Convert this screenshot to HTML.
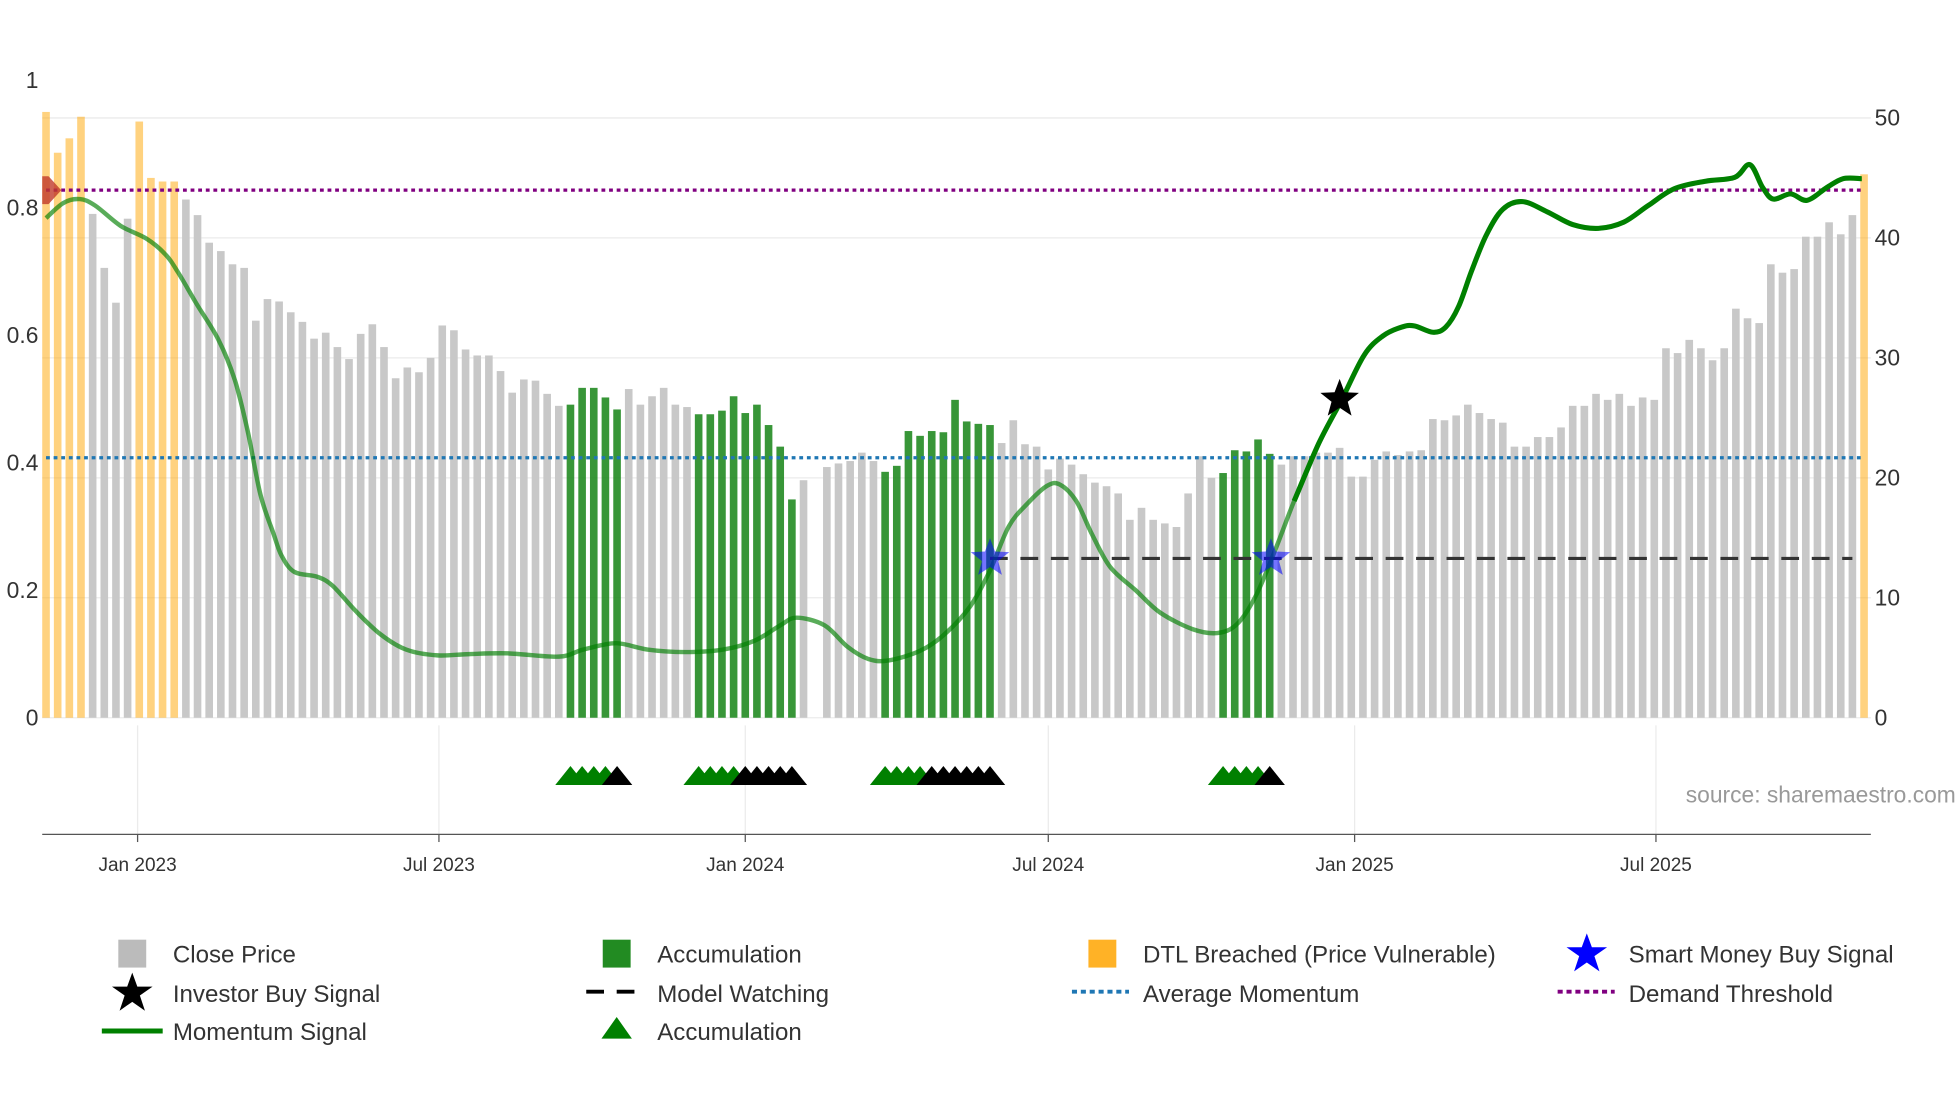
<!DOCTYPE html>
<html><head><meta charset="utf-8"><style>
html,body{margin:0;padding:0;background:#fff;width:1960px;height:1102px;overflow:hidden}
svg{display:block;font-family:"Liberation Sans","DejaVu Sans",sans-serif}
</style></head><body>
<svg id="chart" width="1960" height="1102" viewBox="0 0 1545 869" xmlns="http://www.w3.org/2000/svg">
<g id="grid"></g>
<g id="bars"></g>
<g id="lines"></g>
<g id="mom"></g>
<g id="marks"></g>
<g id="axes"></g>
<text x="1542" y="633" text-anchor="end" font-size="18" fill="#999">source: sharemaestro.com</text>
<g id="legend" font-size="19" fill="#333">
  <g><rect x="93" y="741" width="22" height="22" fill="#bbb"/><text x="136" y="759">Close Price</text></g>
  <g><polygon points="104,767 108,778 120,778 110,785 114,797 104,790 94,797 98,785 88,778 100,778" fill="#000"/><text x="136" y="790">Investor Buy Signal</text></g>
  <g><line x1="80" y1="813" x2="128" y2="813" stroke="#008000" stroke-width="4"/><text x="136" y="820">Momentum Signal</text></g>
  <g><rect x="475" y="741" width="22" height="22" fill="#228b22"/><text x="518" y="759">Accumulation</text></g>
  <g><line x1="462" y1="782" x2="510" y2="782" stroke="#000" stroke-width="3" stroke-dasharray="14,10"/><text x="518" y="790">Model Watching</text></g>
  <g><polygon points="486,802 498,819 474,819" fill="#008000"/><text x="518" y="820">Accumulation</text></g>
  <g><rect x="858" y="741" width="22" height="22" fill="#ffa500" opacity="0.85"/><text x="901" y="759">DTL Breached (Price Vulnerable)</text></g>
  <g><line x1="845" y1="782" x2="890" y2="782" stroke="#1f77b4" stroke-width="3" stroke-dasharray="4,3"/><text x="901" y="790">Average Momentum</text></g>
  <g><polygon points="1251,736 1255,747 1267,747 1257,754 1261,766 1251,759 1241,766 1245,754 1235,747 1247,747" fill="#0000ff"/><text x="1284" y="759">Smart Money Buy Signal</text></g>
  <g><line x1="1228" y1="782" x2="1273" y2="782" stroke="#800080" stroke-width="3" stroke-dasharray="4,3"/><text x="1284" y="790">Demand Threshold</text></g>
</g>
</svg>
<script>
const prices=[50.5,47.1,48.3,50.1,42,37.5,34.6,41.6,49.7,45,44.7,44.7,43.2,41.9,39.6,38.9,37.8,37.5,33.1,34.9,34.7,33.8,33,31.6,32.1,30.9,29.9,32,32.8,30.9,28.3,29.2,28.8,30,32.7,32.3,30.7,30.2,30.2,28.9,27.1,28.2,28.1,27,26,26.1,27.5,27.5,26.7,25.7,27.4,26.1,26.8,27.5,26.1,25.9,25.3,25.3,25.6,26.8,25.4,26.1,24.4,22.6,18.2,19.8,0,20.9,21.2,21.4,22.1,21.4,20.5,21,23.9,23.5,23.9,23.8,26.5,24.7,24.5,24.4,22.9,24.8,22.8,22.6,20.7,21.6,21.1,20.3,19.6,19.3,18.7,16.5,17.5,16.5,16.2,15.9,18.7,21.8,20,20.4,22.3,22.2,23.2,22,21.1,21.8,21.8,22.1,22.1,22.5,20.1,20.1,21.5,22.2,21.9,22.2,22.3,24.9,24.8,25.2,26.1,25.4,24.9,24.6,22.6,22.6,23.4,23.4,24.2,26,26,27,26.5,27,26,26.7,26.5,30.8,30.4,31.5,30.8,29.8,30.8,34.1,33.3,32.9,37.8,37.1,37.4,40.1,40.1,41.3,40.3,41.9,45.3];
const dtlWeeks=[0,1,2,3,8,9,10,11,156];
const accumWeeks=[45,46,47,48,49,56,57,58,59,60,61,62,63,64,72,73,74,75,76,77,78,79,80,81,101,102,103,104,105];
const greenTriWeeks=[45,46,47,48,56,57,58,59,72,73,74,75,101,102,103,104];
const blackTriWeeks=[49,60,61,62,63,64,76,77,78,79,80,81,105];
const momWeeks=[0,1.5,2.9,4.2,6.4,8.6,10.2,11.3,12.9,14.8,16.2,17.3,18.4,19.5,20.2,21.3,23.3,24.6,26.6,28.7,30.9,33.6,36.3,39.6,44,46.1,48.9,51.6,54.8,58.1,60.8,63,64.4,66.8,68.8,70.6,72.3,75,77.1,79.3,81,82.6,84.2,85.9,87,88.4,89.7,91.3,93.5,95.6,98.4,100.5,102.2,103.8,105.4,107.1,109.2,111.2,113.1,114.7,116.3,117.4,119,120.1,121.2,122.3,123.6,125,126.7,128.8,131,133.2,135.4,137.5,139.7,142.4,144.9,146.2,147.3,148.2,149.7,151.1,152.8,154.2,155.8];
const momValues=[0.784,0.808,0.814,0.804,0.772,0.752,0.728,0.70,0.65,0.593,0.53,0.45,0.35,0.29,0.255,0.229,0.221,0.207,0.167,0.131,0.107,0.098,0.1,0.101,0.096,0.107,0.117,0.107,0.103,0.107,0.121,0.145,0.157,0.145,0.111,0.092,0.09,0.105,0.131,0.175,0.231,0.30,0.336,0.364,0.366,0.34,0.29,0.237,0.20,0.165,0.139,0.133,0.147,0.191,0.26,0.34,0.43,0.50,0.569,0.599,0.613,0.615,0.605,0.613,0.645,0.70,0.758,0.798,0.81,0.794,0.774,0.768,0.778,0.804,0.83,0.842,0.848,0.868,0.832,0.814,0.822,0.812,0.832,0.846,0.846];
const smartMoneyWeeks=[81,105.1];
const smartMoneyValues=[0.25,0.25];
const investorWeeks=[111];
const investorValues=[0.5];
const watchStartWeek=81, watchEndWeek=155, watchValue=0.25;
const demandThreshold=0.828, avgMomentum=0.408;
const leftTicks=[0,0.2,0.4,0.6,0.8,1];
const leftTickLabels=["0","0.2","0.4","0.6","0.8","1"];
const rightTicks=[0,10,20,30,40,50];
const dateTicks=["2023-01-01","2023-07-01","2024-01-01","2024-07-01","2025-01-01","2025-07-01"];
const dateTickLabels=["Jan 2023","Jul 2023","Jan 2024","Jul 2024","Jan 2025","Jul 2025"];

const NS="http://www.w3.org/2000/svg";
const start=Date.UTC(2022,10,7), step=9.19;
const xW=w=>36+w*step;
const xD=s=>{const d=(Date.parse(s+"T00:00:00Z")-start)/86400000;return 36+d*step/7;};
const yL=v=>566-v*502.5;
const yR=v=>566-v*9.46;
function mk(tag,attrs,parent){const e=document.createElementNS(NS,tag);for(const k in attrs)e.setAttribute(k,attrs[k]);parent.appendChild(e);return e;}
const G=id=>document.getElementById(id);
const star=(cx,cy,r)=>{let p=[];for(let i=0;i<10;i++){const a=-Math.PI/2+i*Math.PI/5,rr=i%2?r*0.42:r;p.push((cx+rr*Math.cos(a)).toFixed(1)+","+(cy+rr*Math.sin(a)).toFixed(1));}return p.join(" ");};
function smooth(pts){if(pts.length<2)return"";let d="M"+pts[0][0].toFixed(1)+","+pts[0][1].toFixed(1);
for(let i=0;i<pts.length-1;i++){const p0=pts[i-1]||pts[i],p1=pts[i],p2=pts[i+1],p3=pts[i+2]||p2;
const c1=[p1[0]+(p2[0]-p0[0])/6,p1[1]+(p2[1]-p0[1])/6],c2=[p2[0]-(p3[0]-p1[0])/6,p2[1]-(p3[1]-p1[1])/6];
d+=` C${c1[0].toFixed(1)},${c1[1].toFixed(1)} ${c2[0].toFixed(1)},${c2[1].toFixed(1)} ${p2[0].toFixed(1)},${p2[1].toFixed(1)}`;}return d;}

rightTicks.forEach(t=>{const l=mk('line',{x1:33,x2:1475,y1:yR(t),y2:yR(t),stroke:'#ebebeb','stroke-width':1},G('grid'));
});
dateTicks.forEach(d=>{const l=mk('line',{x1:xD(d),x2:xD(d),y1:572,y2:658,stroke:'#ebebeb','stroke-width':1},G('grid'));
});
prices.forEach((p,i)=>{if(!p)return;let c='#c8c8c8',op=1;if(dtlWeeks.includes(i)){c='#ffa500';op=0.5;}else if(accumWeeks.includes(i)){c='#228b22';op=0.9;}
const r=mk('rect',{x:xW(i)-3,y:yR(p),width:6,height:yR(0)-yR(p),fill:c,opacity:op},G('bars'));
});
let l1=mk('line',{x1:36,x2:1470,y1:yL(demandThreshold),y2:yL(demandThreshold),stroke:'#800080','stroke-width':2.5,'stroke-dasharray':'3,3'},G('lines'));

let l2=mk('line',{x1:36,x2:1470,y1:yL(avgMomentum),y2:yL(avgMomentum),stroke:'#1f77b4','stroke-width':2.5,'stroke-dasharray':'3,3'},G('lines'));

let l3=mk('line',{x1:xW(watchStartWeek),x2:xW(watchEndWeek),y1:yL(watchValue),y2:yL(watchValue),stroke:'#333','stroke-width':2.5,'stroke-dasharray':'14,10'},G('lines'));

const ptsAll=momWeeks.map((w,i)=>[xW(w),yL(momValues[i])]);
let m1=mk('path',{d:smooth(ptsAll),fill:'none',stroke:'#008000','stroke-width':3.5,opacity:0.65,'stroke-linejoin':'round'},G('mom'));

const late=momWeeks.map((w,i)=>[w,xW(w),yL(momValues[i])]).filter(p=>p[0]>=107).map(p=>[p[1],p[2]]);
let m2=mk('path',{d:smooth(late),fill:'none',stroke:'#008000','stroke-width':4,'stroke-linejoin':'round'},G('mom'));

let dm=mk('polygon',{points:"33,139 38,139 48,150 38,161 33,161",fill:'#c0392b',opacity:0.8},G('marks'));

smartMoneyWeeks.forEach((w,i)=>{const s=mk('polygon',{points:star(xW(w),yL(smartMoneyValues[i]),16),fill:'#0000ff',opacity:0.55},G('marks'));
});
investorWeeks.forEach((w,i)=>{const s=mk('polygon',{points:star(xW(w),yL(investorValues[i]),16),fill:'#000'},G('marks'));
});
const tri=(w,c)=>{const x=xW(w);const t=mk('polygon',{points:`${x},604 ${x+12},619 ${x-12},619`,fill:c},G('marks'));
};
greenTriWeeks.forEach(w=>tri(w,'#008000'));
blackTriWeeks.forEach(w=>tri(w,'#000'));
let ax=mk('line',{x1:33,x2:1475,y1:658,y2:658,stroke:'#555','stroke-width':1},G('axes'));

dateTicks.forEach((d,i)=>{const x=xD(d);const tk=mk('line',{x1:x,x2:x,y1:658,y2:664,stroke:'#555'},G('axes'));

const t=mk('text',{x:x,y:687,'text-anchor':'middle','font-size':15,fill:'#333'},G('axes'));t.textContent=dateTickLabels[i];
});
leftTicks.forEach((v,i)=>{const t=mk('text',{x:30,y:yL(v)+6,'text-anchor':'end','font-size':18,fill:'#333'},G('axes'));t.textContent=leftTickLabels[i];
});
rightTicks.forEach(v=>{const t=mk('text',{x:1478,y:yR(v)+6,'font-size':18,fill:'#333'},G('axes'));t.textContent=String(v);
});
</script>
</body></html>
